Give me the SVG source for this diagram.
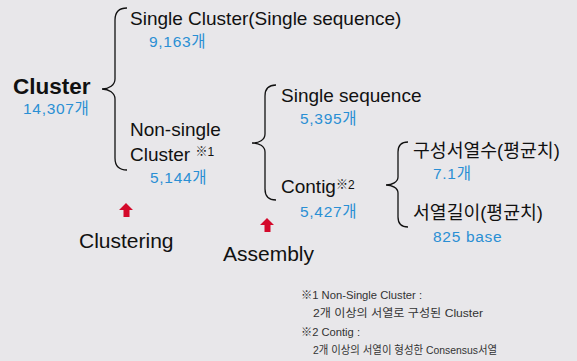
<svg xmlns="http://www.w3.org/2000/svg" width="577" height="361" viewBox="0 0 577 361">
<style>
.t{font-family:"Liberation Sans","Noto Sans CJK KR",Arial,sans-serif;fill:#111;font-size:19px}
.b{font-family:"Liberation Sans","Noto Sans CJK KR",Arial,sans-serif;fill:#2a8fd4;font-size:15.5px;letter-spacing:0.7px}
.k{font-family:"Liberation Sans","Noto Sans CJK KR",sans-serif;fill:#111;font-size:18.3px}
.sup{font-size:12px}
.f{font-family:"Liberation Sans","Noto Sans CJK KR",sans-serif;fill:#333;font-size:11.5px}
.br{fill:none;stroke:#111;stroke-width:1.3}
.ar{fill:#d4092b}
</style>
<rect width="577" height="361" fill="#e8e7ea"/>
<g id="connectors">
<path class="br" d="M127,8 C119,8 115,12 115,20 L115,79 C115,85 109,89 102,89 C109,89 115,93 115,99 L115,158 C115,166 119,170 127,170"/>
<path class="br" d="M276,85 C268,85 265,89 265,96 L265,134 C265,140 259,143 252,143 C259,143 265,146 265,152 L265,189 C265,196 268,200 276,200"/>
<path class="br" d="M408,142 C401,142 398,146 398,152 L398,177 C398,182 392,185 386,185 C392,185 398,188 398,193 L398,217 C398,223 401,227 408,227"/>
<polygon class="ar" points="119,210 126,203 133,210 129.5,210 129.5,217 123.5,217 123.5,210"/>
<polygon class="ar" points="260,225 267,218 274,225 270.5,225 270.5,232 264.5,232 264.5,225"/>
</g>
<g id="cluster">
<text x="13" y="94" style="font-family:'Liberation Sans',Arial,sans-serif;font-weight:bold;font-size:22.5px;fill:#111">Cluster</text>
<text class="b" x="23" y="114">14,307개</text>
</g>
<g id="single-cluster">
<text class="t" x="130" y="25">Single Cluster(Single sequence)</text>
<text class="b" x="149" y="47">9,163개</text>
</g>
<g id="non-single-cluster">
<text class="t" x="130" y="136">Non-single</text>
<text class="t" x="130" y="161">Cluster <tspan class="sup" dy="-5">※1</tspan></text>
<text class="b" x="150" y="183">5,144개</text>
</g>
<g id="single-sequence">
<text class="t" x="281" y="102">Single sequence</text>
<text class="b" x="300" y="124">5,395개</text>
</g>
<g id="contig">
<text class="t" x="281" y="193">Contig<tspan class="sup" dy="-4">※2</tspan></text>
<text class="b" x="300" y="217">5,427개</text>
</g>
<g id="seq-count">
<text class="k" x="413" y="157">구성서열수(평균치)</text>
<text class="b" x="433" y="179">7.1개</text>
</g>
<g id="seq-length">
<text class="k" x="413" y="219">서열길이(평균치)</text>
<text class="b" x="433" y="242">825 base</text>
</g>
<g id="clustering">
<text class="t" x="79" y="248" style="font-size:21px">Clustering</text>
</g>
<g id="assembly">
<text class="t" x="223" y="261" style="font-size:21px">Assembly</text>
</g>
<g id="notes">
<text class="f" x="301" y="299" textLength="121" lengthAdjust="spacingAndGlyphs">※1 Non-Single Cluster :</text>
<text class="f" x="313" y="317" textLength="170" lengthAdjust="spacingAndGlyphs">2개 이상의 서열로 구성된 Cluster</text>
<text class="f" x="301" y="336" textLength="59" lengthAdjust="spacingAndGlyphs">※2 Contig :</text>
<text class="f" x="313" y="354" textLength="184" lengthAdjust="spacingAndGlyphs">2개 이상의 서열이 형성한 Consensus서열</text>
</g>
</svg>
